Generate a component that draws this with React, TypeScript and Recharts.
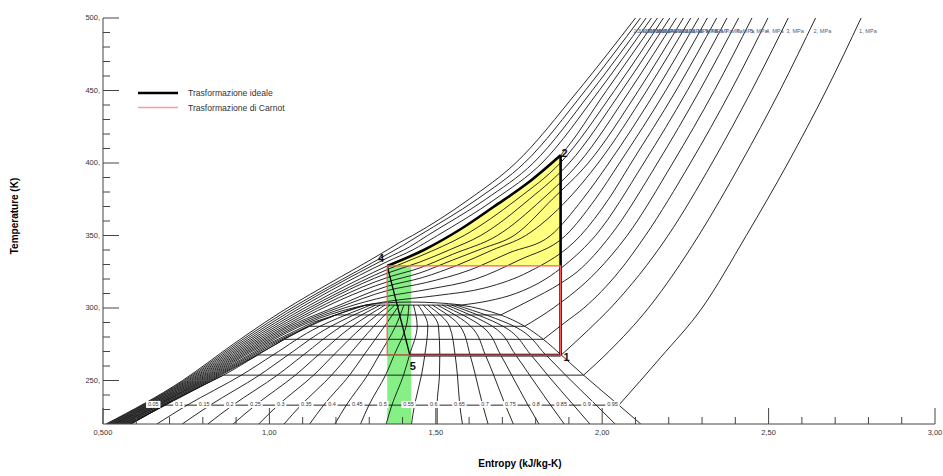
import React from 'react';
import { ComposedChart, Line, Area, Scatter, XAxis, YAxis, Legend } from 'recharts';

type Pt = [number, number];

// axes
const xTicks = [0.5, 0.6, 0.7, 0.8, 0.9, 1, 1.1, 1.2, 1.3, 1.4, 1.5, 1.6, 1.7, 1.8, 1.9, 2, 2.1, 2.2, 2.3, 2.4, 2.5, 2.6, 2.7, 2.8, 2.9, 3];
const xMajor = [0.5, 1, 1.5, 2, 2.5, 3];
const xMajorLabels = ['0,500', '1,00', '1,50', '2,00', '2,50', '3,00'];
const yTicks = [230, 240, 250, 260, 270, 280, 290, 300, 310, 320, 330, 340, 350, 360, 370, 380, 390, 400, 410, 420, 430, 440, 450, 460, 470, 480, 490, 500];
const yMajor = [250, 300, 350, 400, 450, 500];
const yMajorLabels = ['250,', '300,', '350,', '400,', '450,', '500,'];

// saturation dome (s kJ/kg-K, T K)
const dome: Pt[] = [
  [0.585, 220], [0.685, 233], [0.83, 250], [0.862, 253.7], [0.965, 267.6], [1.045, 278.4], [1.12, 287.4],
  [1.2, 295.2], [1.29, 302], [1.36, 303.7], [1.43, 304.1], [1.5, 303.6], [1.576, 302], [1.64, 299],
  [1.695, 295.2], [1.767, 287.4], [1.823, 278.4], [1.877, 267.6], [1.944, 253.7], [2.05, 233], [2.116, 220],
];

// isobars, MPa
const pressures = [1, 2, 3, 4, 5, 6, 7, 8, 9, 10, 11, 12, 13, 14, 15, 16, 17, 18, 19, 20];
const isobarTopS = [2.778, 2.641, 2.559, 2.498, 2.45, 2.41, 2.375, 2.344, 2.316, 2.29, 2.266, 2.244, 2.223, 2.203, 2.184, 2.166, 2.148, 2.132, 2.115, 2.1];

// 1..7 MPa: liquid branch up to saturation, vapour branch from saturation
const liquidBranches: Pt[][] = [
  [[0.583, 220], [0.685, 233]],
  [[0.58, 220], [0.828, 250], [0.862, 253.7]],
  [[0.576, 220], [0.824, 250], [0.965, 267.6]],
  [[0.572, 220], [0.819, 250], [1.019, 275], [1.045, 278.4]],
  [[0.568, 220], [0.814, 250], [1.011, 275], [1.12, 287.4]],
  [[0.564, 220], [0.809, 250], [1.003, 275], [1.139, 290], [1.2, 295.2]],
  [[0.56, 220], [0.804, 250], [0.995, 275], [1.129, 290], [1.29, 302]],
];
const vapourBranches: Pt[][] = [
  [[2.05, 233], [2.176, 266], [2.3, 300], [2.433, 350], [2.558, 400], [2.673, 450], [2.778, 500]],
  [[1.944, 253.7], [2.02, 270], [2.139, 300], [2.29, 350], [2.417, 400], [2.534, 450], [2.641, 500]],
  [[1.877, 267.6], [1.959, 285], [2.025, 300], [2.198, 350], [2.33, 400], [2.449, 450], [2.559, 500]],
  [[1.823, 278.4], [1.888, 290], [1.945, 300], [2.05, 325], [2.13, 350], [2.265, 400], [2.387, 450], [2.498, 500]],
  [[1.767, 287.4], [1.853, 300], [1.983, 325], [2.075, 350], [2.212, 400], [2.337, 450], [2.45, 500]],
  [[1.695, 295.2], [1.78, 305], [1.875, 317], [1.925, 325], [2.025, 350], [2.166, 400], [2.293, 450], [2.41, 500]],
  [[1.576, 302], [1.66, 305], [1.74, 310], [1.83, 320], [1.89, 330], [1.98, 350], [2.125, 400], [2.256, 450], [2.375, 500]],
];
// 8..20 MPa
const supercritical: Pt[][] = [
  [[0.556, 220], [0.799, 250], [0.987, 275], [1.118, 290], [1.25, 300], [1.354, 304.5], [1.5, 308.5], [1.65, 314], [1.78, 325], [1.935, 350], [2.019, 375], [2.087, 400], [2.222, 450], [2.344, 500]],
  [[0.552, 220], [0.794, 250], [0.979, 275], [1.107, 290], [1.225, 300], [1.354, 308], [1.48, 313], [1.62, 320], [1.75, 333], [1.89, 350], [1.979, 375], [2.052, 400], [2.191, 450], [2.316, 500]],
  [[0.548, 220], [0.789, 250], [0.971, 275], [1.096, 290], [1.205, 300], [1.354, 312], [1.47, 317.5], [1.6, 326], [1.72, 338], [1.845, 350], [1.941, 375], [2.02, 400], [2.162, 450], [2.29, 500]],
  [[0.544, 220], [0.784, 250], [0.963, 275], [1.085, 290], [1.19, 300], [1.354, 315], [1.46, 321], [1.57, 330], [1.67, 340], [1.77, 350], [1.897, 375], [1.988, 400], [2.134, 450], [2.266, 500]],
  [[0.54, 220], [0.779, 250], [0.955, 275], [1.074, 290], [1.354, 318], [1.45, 324], [1.55, 333], [1.64, 341], [1.735, 350], [1.85, 375], [1.958, 400], [2.109, 450], [2.244, 500]],
  [[0.536, 220], [0.774, 250], [0.947, 275], [1.063, 290], [1.354, 321], [1.45, 327.5], [1.55, 337], [1.685, 350], [1.82, 375], [1.93, 400], [2.083, 450], [2.223, 500]],
  [[0.533, 220], [0.769, 250], [0.939, 275], [1.052, 290], [1.354, 324], [1.45, 331.5], [1.54, 340], [1.635, 350], [1.781, 375], [1.901, 400], [2.059, 450], [2.203, 500]],
  [[0.529, 220], [0.764, 250], [0.931, 275], [1.041, 290], [1.354, 326.5], [1.455, 336], [1.585, 350], [1.744, 375], [1.874, 400], [2.037, 450], [2.184, 500]],
  [[0.525, 220], [0.759, 250], [0.923, 275], [1.03, 290], [1.354, 329], [1.464, 340], [1.574, 354.3], [1.674, 369.8], [1.775, 386], [1.875, 405.4], [2.013, 450], [2.166, 500]],
  [[0.521, 220], [0.754, 250], [0.915, 275], [1.019, 290], [1.354, 332], [1.43, 340], [1.505, 350], [1.678, 375], [1.819, 400], [1.991, 450], [2.148, 500]],
  [[0.517, 220], [0.749, 250], [0.907, 275], [1.008, 290], [1.354, 334.5], [1.42, 342], [1.475, 350], [1.65, 375], [1.793, 400], [1.97, 450], [2.132, 500]],
  [[0.513, 220], [0.744, 250], [0.899, 275], [0.997, 290], [1.354, 337], [1.4, 343], [1.45, 350], [1.624, 375], [1.766, 400], [1.949, 450], [2.115, 500]],
  [[0.509, 220], [0.739, 250], [0.891, 275], [0.986, 290], [1.354, 340], [1.39, 345], [1.43, 350], [1.6, 375], [1.74, 400], [1.928, 450], [2.1, 500]],
];

// quality lines: s at each temperature level
const qualityTemps = [302, 287.4, 267.6, 253.7, 233, 220];
const qualityValues = ['0.05', '0.1', '0.15', '0.2', '0.25', '0.3', '0.35', '0.4', '0.45', '0.5', '0.55', '0.6', '0.65', '0.7', '0.75', '0.8', '0.85', '0.9', '0.95'];
const qualityS: number[][] = [
  [1.304, 1.152, 1.011, 0.916, 0.753, 0.662],
  [1.319, 1.185, 1.056, 0.97, 0.822, 0.738],
  [1.333, 1.217, 1.102, 1.024, 0.89, 0.815],
  [1.347, 1.249, 1.147, 1.078, 0.958, 0.891],
  [1.362, 1.282, 1.193, 1.133, 1.026, 0.968],
  [1.376, 1.314, 1.239, 1.187, 1.095, 1.044],
  [1.39, 1.346, 1.284, 1.241, 1.163, 1.121],
  [1.404, 1.379, 1.33, 1.295, 1.231, 1.197],
  [1.419, 1.411, 1.375, 1.349, 1.299, 1.274],
  [1.433, 1.444, 1.421, 1.403, 1.368, 1.351],
  [1.447, 1.476, 1.467, 1.457, 1.436, 1.427],
  [1.462, 1.508, 1.512, 1.511, 1.504, 1.504],
  [1.476, 1.541, 1.558, 1.565, 1.572, 1.58],
  [1.49, 1.573, 1.603, 1.619, 1.641, 1.657],
  [1.505, 1.605, 1.649, 1.674, 1.709, 1.733],
  [1.519, 1.638, 1.695, 1.728, 1.777, 1.81],
  [1.533, 1.67, 1.74, 1.782, 1.845, 1.886],
  [1.547, 1.702, 1.786, 1.836, 1.914, 1.963],
  [1.562, 1.735, 1.831, 1.89, 1.982, 2.039],
];
const qualityLabelS = [0.651, 0.728, 0.804, 0.881, 0.958, 1.034, 1.111, 1.188, 1.264, 1.341, 1.418, 1.494, 1.571, 1.648, 1.724, 1.801, 1.878, 1.954, 2.031];
const qualityLabelT = 233.5;

// cycle
const idealGasCooler: Pt[] = [[1.354, 329], [1.464, 340], [1.574, 354.3], [1.674, 369.8], [1.775, 386], [1.875, 405.4]];
const idealCompression: Pt[] = [[1.875, 267.5], [1.875, 405.4]];
const idealExpansion: Pt[] = [[1.354, 329], [1.422, 267.5]];
const idealEvaporation: Pt[] = [[1.422, 267.5], [1.875, 267.5]];
const carnot: Pt[] = [[1.354, 329], [1.875, 329], [1.875, 267.5], [1.354, 267.5], [1.354, 329]];
const expansionBand: Pt[] = [[1.354, 329], [1.426, 329]];
const pointNames = ['1', '2', '4', '5'];
const pointS = [1.875, 1.875, 1.354, 1.422];
const pointT = [267.5, 405.4, 329, 267.5];

const rows = (pts: Pt[]) => pts.map(([s, T]) => ({ s, T }));

const FONT = 'Liberation Sans, Arial, sans-serif';
const AXIS = '#444';
const INK = '#111';
const CARNOT = '#ff5a5a';

const L = 103, R = 935, TOP = 18, BOT = 424;

function BottomTick(p: any) {
  const i = xMajor.indexOf(p.payload.value);
  return (
    <g>
      <line x1={p.x} x2={p.x} y1={BOT} y2={BOT - (i >= 0 ? 16 : 7)} stroke={AXIS} />
      {i >= 0 && (
        <text x={p.x} y={435} textAnchor="middle" fontSize={7.5} fill="#333" fontFamily={FONT}>{xMajorLabels[i]}</text>
      )}
    </g>
  );
}
function TopTick(p: any) {
  const i = xMajor.indexOf(p.payload.value);
  return <line x1={p.x} x2={p.x} y1={TOP} y2={TOP + (i >= 0 ? 16 : 7)} stroke={AXIS} />;
}
function LeftTick(p: any) {
  const i = yMajor.indexOf(p.payload.value);
  return (
    <g>
      <line x1={L} x2={L + (i >= 0 ? 16 : 7)} y1={p.y} y2={p.y} stroke={AXIS} />
      {i >= 0 && (
        <text x={100} y={p.y + 2} textAnchor="end" fontSize={7.5} fill="#333" fontFamily={FONT}>{yMajorLabels[i]}</text>
      )}
    </g>
  );
}
function RightTick(p: any) {
  const i = yMajor.indexOf(p.payload.value);
  return <line x1={R} x2={R - (i >= 0 ? 16 : 7)} y1={p.y} y2={p.y} stroke={AXIS} />;
}

function XTitle() {
  return <text x={520} y={467} textAnchor="middle" fontSize={10} fontWeight="bold" fontFamily={FONT}>Entropy (kJ/kg-K)</text>;
}
function YTitle() {
  return (
    <text x={18} y={216} transform="rotate(-90 18 216)" textAnchor="middle" fontSize={10} fontWeight="bold" fontFamily={FONT}>
      Temperature (K)
    </text>
  );
}

function LegendBox() {
  return (
    <svg width={200} height={30} style={{ display: 'block' }}>
      <line x1={3} x2={43} y1={8} y2={8} stroke="#000" strokeWidth={2.5} />
      <text x={53} y={11} fontSize={8.6} fill="#333" fontFamily={FONT}>Trasformazione ideale</text>
      <line x1={3} x2={43} y1={22.5} y2={22.5} stroke="#ff9a9a" strokeWidth={1.5} />
      <text x={53} y={25.5} fontSize={8.6} fill="#333" fontFamily={FONT}>Trasformazione di Carnot</text>
    </svg>
  );
}

const pointOffsets: Record<string, [number, number, 'start' | 'end']> = {
  '1': [3, 6, 'start'],
  '2': [1, 2, 'start'],
  '4': [-3, -4, 'end'],
  '5': [0, 15, 'start'],
};

function PointLabel(p: any) {
  const [dx, dy, anchor] = pointOffsets[p.payload.name];
  return (
    <text x={p.cx + dx} y={p.cy + dy} textAnchor={anchor} fontSize={11} fontWeight="bold" fill="#111" fontFamily={FONT}>
      {p.payload.name}
    </text>
  );
}
function IsobarLabel(p: any) {
  return (
    <text x={p.cx - 2} y={p.cy + 2} fontSize={5.6} fill="#4a5f86" fontFamily={FONT}>{p.payload.name}</text>
  );
}
function QualityLabel(p: any) {
  const w = p.payload.name.length * 3.1 + 2;
  return (
    <g>
      <rect x={p.cx - w / 2} y={p.cy - 3.5} width={w} height={7} fill="#fff" />
      <text x={p.cx} y={p.cy + 2} textAnchor="middle" fontSize={5.5} fill="#333" fontFamily={FONT}>{p.payload.name}</text>
    </g>
  );
}

export default function App() {
  const pointRows = pointNames.map((name, i) => ({ s: pointS[i], T: pointT[i], name }));
  const isobarRows = pressures.map((p, i) => ({ s: isobarTopS[i], T: 490.8, name: `${p}, MPa` }));
  const qualityRows = qualityValues.map((name, i) => ({ s: qualityLabelS[i], T: qualityLabelT, name }));

  const thin = { dot: false, activeDot: false, isAnimationActive: false, stroke: INK, strokeWidth: 0.9, legendType: 'none' as const };

  return (
    <div style={{ position: 'absolute', left: 0, top: 0, width: 943, height: 476, background: '#fff' }}>
      <ComposedChart width={943} height={476} margin={{ top: TOP, right: 943 - R, bottom: 0, left: 0 }}>
        <XAxis type="number" dataKey="s" domain={[0.5, 3]} ticks={xTicks} interval={0} allowDataOverflow height={476 - BOT}
          axisLine={{ stroke: AXIS }} tickLine={false} tick={BottomTick} label={<XTitle />} />
        <XAxis xAxisId="top" orientation="top" type="number" dataKey="s" domain={[0.5, 3]} ticks={xTicks} interval={0}
          allowDataOverflow height={0} axisLine={{ stroke: AXIS }} tickLine={false} tick={TopTick} />
        <YAxis type="number" dataKey="T" domain={[220, 500]} ticks={yTicks} interval={0} allowDataOverflow width={L}
          axisLine={{ stroke: AXIS }} tickLine={false} tick={LeftTick} label={<YTitle />} />
        <YAxis yAxisId="right" orientation="right" type="number" dataKey="T" domain={[220, 500]} ticks={yTicks} interval={0}
          allowDataOverflow width={0} axisLine={{ stroke: AXIS }} tickLine={false} tick={RightTick} />

        <Legend content={LegendBox} layout="vertical" align="center" verticalAlign="middle" wrapperStyle={{ left: 135, top: 85, width: 200 }} />

        <Area data={rows(idealGasCooler)} dataKey="T" type="monotone" baseValue={329} fill="#ffff80" fillOpacity={1} stroke="none" isAnimationActive={false} legendType="none" />
        <Area data={rows(expansionBand)} dataKey="T" type="linear" baseValue={220} fill="#86ef86" fillOpacity={1} stroke="none" isAnimationActive={false} legendType="none" />

        <Line data={rows(dome)} dataKey="T" type="monotone" {...thin} />
        {liquidBranches.map((liq, i) => (
          <Line key={`l${i}`} data={rows([...liq, vapourBranches[i][0]])} dataKey="T" type="linear" {...thin} />
        ))}
        {vapourBranches.map((vap, i) => (
          <Line key={`v${i}`} data={rows(vap)} dataKey="T" type="monotone" {...thin} />
        ))}
        {supercritical.map((sc, i) => (
          <Line key={`s${i}`} data={rows(sc)} dataKey="T" type="monotone" {...thin} />
        ))}
        {qualityS.map((q, i) => (
          <Line key={`q${i}`} data={q.map((s, j) => ({ s, T: qualityTemps[j] }))} dataKey="T" type="monotoneY" {...thin} />
        ))}

        <Line data={rows(idealCompression)} dataKey="T" type="linear" {...thin} stroke="#000" strokeWidth={2.6} />
        <Line data={rows(idealGasCooler)} dataKey="T" type="monotone" {...thin} stroke="#000" strokeWidth={2.6} />
        <Line data={rows(idealEvaporation)} dataKey="T" type="linear" {...thin} stroke="#000" strokeWidth={2.6} />
        <Line data={rows(idealExpansion)} dataKey="T" type="linear" {...thin} stroke="#000" strokeWidth={1.3} />
        <Line data={rows(carnot)} dataKey="T" type="linear" {...thin} stroke={CARNOT} strokeWidth={1.3} />

        <Scatter data={qualityRows} shape={QualityLabel} isAnimationActive={false} legendType="none" />
        <Scatter data={isobarRows} shape={IsobarLabel} isAnimationActive={false} legendType="none" />
        <Scatter data={pointRows} shape={PointLabel} isAnimationActive={false} legendType="none" />
      </ComposedChart>
    </div>
  );
}
